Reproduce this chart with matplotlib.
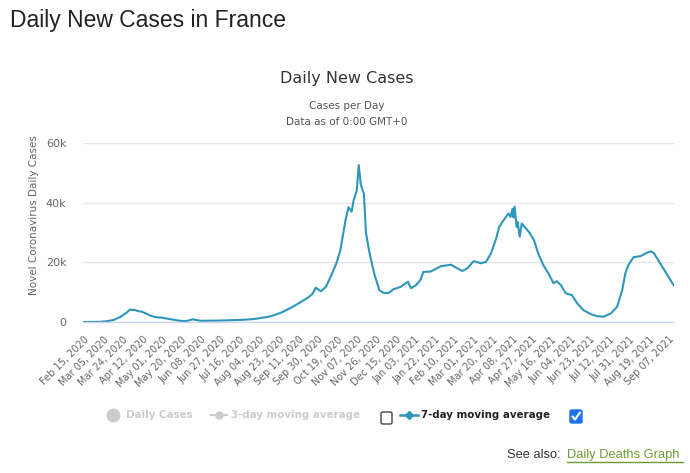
import matplotlib
matplotlib.use("Agg")
import matplotlib.pyplot as plt
from matplotlib.lines import Line2D
from matplotlib.patches import FancyBboxPatch
import pandas as pd

# ---- data (7-day moving average) ----
dates = [
    "2020-02-15", "2020-03-01", "2020-03-08", "2020-03-15", "2020-03-22", "2020-03-27",
    "2020-03-31", "2020-04-02", "2020-04-04", "2020-04-08", "2020-04-11", "2020-04-15",
    "2020-04-20", "2020-04-25", "2020-04-30", "2020-05-05", "2020-05-10", "2020-05-15",
    "2020-05-20", "2020-05-25", "2020-05-29", "2020-05-31", "2020-06-03", "2020-06-08",
    "2020-06-18", "2020-06-28", "2020-07-07", "2020-07-17", "2020-07-27", "2020-08-05",
    "2020-08-15", "2020-08-25", "2020-09-04", "2020-09-13", "2020-09-21", "2020-09-25",
    "2020-09-28", "2020-10-03", "2020-10-08", "2020-10-13", "2020-10-18", "2020-10-22",
    "2020-10-27", "2020-10-30", "2020-11-02", "2020-11-04", "2020-11-07", "2020-11-09",
    "2020-11-11", "2020-11-14", "2020-11-16", "2020-11-19", "2020-11-24", "2020-11-29",
    "2020-12-03", "2020-12-08", "2020-12-13", "2020-12-20", "2020-12-27", "2020-12-30",
    "2021-01-04", "2021-01-08", "2021-01-11", "2021-01-18", "2021-01-28", "2021-02-07",
    "2021-02-13", "2021-02-18", "2021-02-23", "2021-03-01", "2021-03-08", "2021-03-13",
    "2021-03-18", "2021-03-23", "2021-03-26", "2021-03-30", "2021-04-04", "2021-04-06",
    "2021-04-08", "2021-04-09", "2021-04-10", "2021-04-12", "2021-04-13", "2021-04-15",
    "2021-04-17", "2021-04-24", "2021-04-29", "2021-05-03", "2021-05-08", "2021-05-13",
    "2021-05-18", "2021-05-21", "2021-05-25", "2021-05-30", "2021-06-05", "2021-06-10",
    "2021-06-16", "2021-06-23", "2021-06-30", "2021-07-06", "2021-07-13", "2021-07-19",
    "2021-07-24", "2021-07-27", "2021-07-30", "2021-08-04", "2021-08-11", "2021-08-17",
    "2021-08-21", "2021-08-24", "2021-08-28", "2021-09-02", "2021-09-07", "2021-09-12",
]
cases_7day = [
    0, 50, 250, 700, 1800, 3000,
    4200, 4000, 4100, 3600, 3500, 2900,
    2100, 1600, 1500, 1200, 900, 600,
    350, 300, 700, 900, 700, 400,
    450, 500, 600, 700, 900, 1300,
    1900, 3100, 4800, 6600, 8300, 9500,
    11500, 10300, 11800, 15500, 19500, 24000,
    34000, 38500, 37000, 40800, 44000, 52600,
    46000, 43000, 30000, 24000, 16300, 10700,
    9800, 9700, 11000, 11800, 13500, 11300,
    12400, 14000, 16800, 16900, 18700, 19200,
    18000, 17100, 18000, 20400, 19700, 20100,
    23000, 28000, 31900, 34000, 36400, 35200,
    38000, 35000, 38700, 31900, 33500, 28600,
    33000, 30200, 27400, 23000, 19100, 16300,
    13000, 13700, 12400, 9600, 9000, 6300,
    4000, 2700, 1900, 1800, 2900, 5100,
    10700, 16300, 19100, 21700, 22100, 23200,
    23700, 23000, 20800, 18000, 15200, 12400,
]
first_tick = "2020-02-15"
tick_step_days = 19
n_ticks = 31
y_ticks = [0, 20000, 40000, 60000]
y_tick_labels = ["0", "20k", "40k", "60k"]

# ---- figure ----
W, H = 690, 473
fig = plt.figure(figsize=(W / 100, H / 100), dpi=100)
fig.patch.set_facecolor("white")

def fx(px):
    return px / W

def fy(py):
    return 1 - py / H

ax = fig.add_axes([fx(83), fy(322), fx(674) - fx(83), fy(143) - fy(322)])

x = pd.to_datetime(dates)
ax.plot(x, cases_7day, color="#2e96bd", linewidth=1.5, solid_joinstyle="round")

start = pd.Timestamp(first_tick)
ticks = [start + pd.Timedelta(days=tick_step_days * i) for i in range(n_ticks)]
ax.set_xticks(ticks)
ax.set_xticklabels([t.strftime("%b %d, %Y") for t in ticks], rotation=45,
                   ha="right", va="top", rotation_mode="anchor",
                   fontsize=7, color="#666666", family="DejaVu Sans")
ax.set_xlim(start - pd.Timedelta(days=1), pd.Timestamp(dates[-1]) + pd.Timedelta(days=0.5))
ax.set_ylim(0, 60000)
ax.set_yticks(y_ticks)
ax.set_yticklabels(y_tick_labels, fontsize=8, color="#666666", family="DejaVu Sans")

ax.tick_params(axis="x", length=0, pad=9)
ax.tick_params(axis="y", length=0, pad=12)
for s in ["top", "right", "left"]:
    ax.spines[s].set_visible(False)
ax.spines["bottom"].set_color("#ccd6eb")
ax.spines["bottom"].set_linewidth(1.0)
ax.grid(axis="y", color="#e6e6e6", linewidth=1.0)
ax.set_axisbelow(True)

ax.set_ylabel("Novel Coronavirus Daily Cases", fontsize=7.5, color="#666666",
              family="DejaVu Sans")
ax.yaxis.set_label_coords(fx(32) - fx(83), (fy(215) - fy(322)) / (fy(143) - fy(322)))

# ---- titles ----
fig.text(fx(10), fy(20), "Daily New Cases in France", fontsize=16.5, color="#222222",
         family="Liberation Sans", ha="left", va="center")
fig.text(fx(347), fy(78), "Daily New Cases", fontsize=11.5, color="#333333",
         family="DejaVu Sans", ha="center", va="center")
fig.text(fx(347), fy(106), "Cases per Day", fontsize=7.5, color="#555555",
         family="DejaVu Sans", ha="center", va="center")
fig.text(fx(347), fy(122), "Data as of 0:00 GMT+0", fontsize=7.5, color="#555555",
         family="DejaVu Sans", ha="center", va="center")

# ---- legend ----
ly = fy(415)
lfs = 7.4
fig.add_artist(Line2D([fx(113)], [ly], marker="o", markersize=9, color="#cccccc",
                      linestyle="none"))
fig.text(fx(126), ly, "Daily Cases", fontsize=lfs, color="#cccccc", weight="bold",
         family="DejaVu Sans", ha="left", va="center")
fig.add_artist(Line2D([fx(211), fx(227)], [ly, ly], color="#cccccc", linewidth=1.5))
fig.add_artist(Line2D([fx(219)], [ly], marker="o", markersize=5, color="#cccccc",
                      linestyle="none"))
fig.text(fx(231), ly, "3-day moving average", fontsize=lfs, color="#cccccc", weight="bold",
         family="DejaVu Sans", ha="left", va="center")
fig.add_artist(FancyBboxPatch((fx(381), fy(424)), fx(11), fy(412) - fy(424),
                              boxstyle="round,pad=0,rounding_size=0.003",
                              facecolor="white", edgecolor="#444444", linewidth=1.0))
fig.add_artist(Line2D([fx(400), fx(418)], [ly, ly], color="#2e96bd", linewidth=1.8))
fig.add_artist(Line2D([fx(409)], [ly], marker="D", markersize=4.5, color="#2e96bd",
                      linestyle="none"))
fig.text(fx(421), ly, "7-day moving average", fontsize=lfs, color="#222222", weight="bold",
         family="DejaVu Sans", ha="left", va="center")
fig.add_artist(FancyBboxPatch((fx(570), fy(423)), fx(12), fy(410) - fy(423),
                              boxstyle="round,pad=0,rounding_size=0.003",
                              facecolor="#1a73e8", edgecolor="#1a73e8", linewidth=1.0))
fig.add_artist(Line2D([fx(572.5), fx(575), fx(580)], [fy(416.5), fy(419.5), fy(412.5)],
                      color="white", linewidth=1.6, solid_capstyle="round"))

# ---- see also ----
fig.text(fx(507), fy(455), "See also:", fontsize=9.3, color="#333333",
         family="Liberation Sans", ha="left", va="center")
fig.text(fx(567), fy(455), "Daily Deaths Graph", fontsize=9.3, color="#6f9a33",
         family="Liberation Sans", ha="left", va="center")
fig.add_artist(Line2D([fx(567), fx(683)], [fy(462), fy(462)], color="#6f9a33",
                      linewidth=1.0))

fig.savefig("out.png", dpi=100, facecolor="white")
